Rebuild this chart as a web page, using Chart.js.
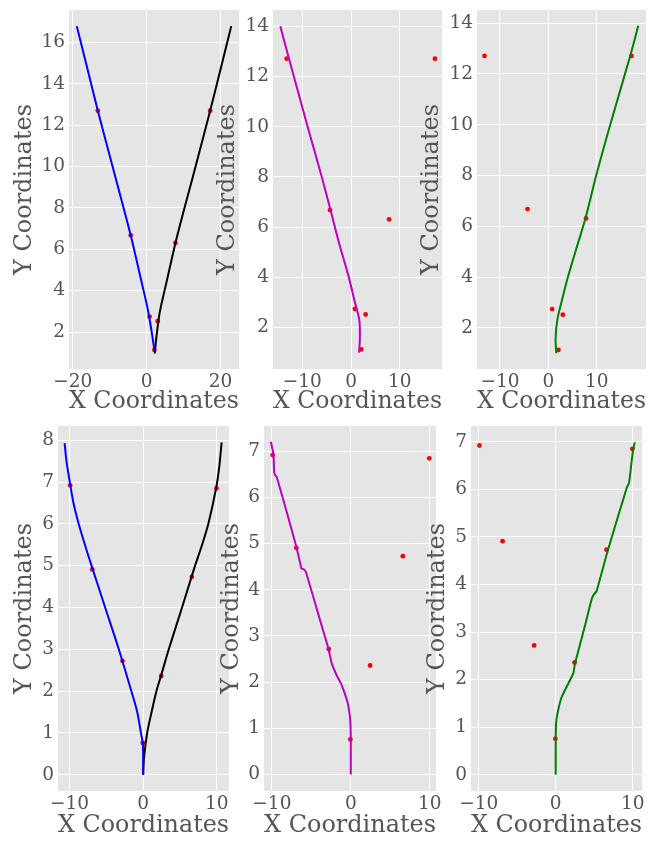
<!DOCTYPE html>
<html><head><meta charset="utf-8">
<script src="https://cdn.jsdelivr.net/npm/chart.js@4.4.1/dist/chart.umd.min.js"></script>
<style>
html,body{margin:0;padding:0;background:#fff;width:659px;height:841px;overflow:hidden;position:relative}
canvas{position:absolute}
</style></head><body>
<script>
// ---------- DATA ----------
// Top row: shared red points
const redTopX = [-13.2, -4.3, 0.8, 2.1, 3.0, 7.8, 17.2];
const redTopY = [12.71, 6.68, 2.74, 1.13, 2.52, 6.31, 12.71];
// Panel 1 curves
const p1BlueX  = [-18.9, -16.1, -13.2, -8.9, -4.3, -1.6, 0.2, 1.2, 1.8, 2.15];
const p1BlueY  = [16.8, 14.8, 12.71, 9.8, 6.68, 4.6, 3.2, 2.2, 1.5, 1.1];
const p1BlackX = [2.2, 2.5, 2.95, 3.6, 5.5, 7.8, 10.1, 12.5, 17.2, 20.0, 22.9];
const p1BlackY = [0.96, 1.5, 2.2, 3.0, 4.5, 6.31, 7.9, 9.5, 12.71, 14.7, 16.8];
// Panel 2 curve
const p2MagX = [-14.5, -12.7, -8.9, -6.0, -4.2, -2.5, -0.45, 0.8, 1.3, 1.7, 1.8, 1.8, 1.65];
const p2MagY = [14.0, 12.7, 10.0, 8.0, 6.68, 5.4, 4.0, 3.0, 2.65, 2.3, 2.0, 1.5, 1.0];
// Panel 3 curve
const p3GreenX = [1.65, 1.5, 1.65, 2.05, 2.7, 4.05, 5.6, 7.7, 9.9, 12.8, 16.9, 18.6];
const p3GreenY = [1.0, 1.5, 2.0, 2.5, 3.0, 4.0, 5.0, 6.33, 8.0, 10.0, 12.69, 13.9];

// Bottom row: shared red points
const redBotX = [-9.9, -6.9, -2.8, -0.05, 2.45, 6.6, 9.95];
const redBotY = [6.92, 4.91, 2.72, 0.76, 2.36, 4.73, 6.85];
// Panel 4 curves
const p4BlueX  = [-10.65, -10.4, -9.95, -9.45, -8.75, -7.9, -7.0, -5.15, -3.3, -1.6, -0.8, -0.3, -0.05, 0, 0];
const p4BlueY  = [7.93, 7.5, 7.0, 6.5, 6.0, 5.5, 5.0, 4.0, 3.0, 2.0, 1.5, 1.0, 0.76, 0.4, 0];
const p4BlackX = [0, 0.12, 0.55, 1.15, 1.81, 2.45, 3.48, 5.28, 6.6, 7.05, 8.0, 8.85, 9.93, 10.35, 10.65];
const p4BlackY = [0, 0.4, 1.0, 1.5, 2.0, 2.38, 3.0, 4.0, 4.75, 5.0, 5.5, 6.0, 6.88, 7.4, 7.95];
// Panel 5 curve
const p5MagX = [-10.13, -9.8, -9.71, -9.6, -9.37, -6.89, -6.25, -6.0, -5.7, -3.72, -2.83, -2.4, -1.77, -1.14, -0.42, -0.25, -0.08, 0, 0];
const p5MagY = [7.21, 6.93, 6.55, 6.49, 6.44, 4.93, 4.46, 4.45, 4.39, 3.24, 2.72, 2.4, 2.14, 1.93, 1.57, 1.42, 1.21, 0.78, 0];
// Panel 6 curve
const p6GreenX = [0, 0, 0.04, 0.22, 0.78, 1.42, 2.28, 2.5, 3.79, 4.66, 4.95, 5.3, 6.73, 9.26, 9.52, 9.83, 10.04, 10.26];
const p6GreenY = [0, 0.73, 1.08, 1.29, 1.64, 1.85, 2.13, 2.34, 3.13, 3.69, 3.79, 3.86, 4.70, 6.05, 6.13, 6.55, 6.82, 6.99];

// Axis ranges and ticks
const p1XRange = [-21.0, 25.0], p1YRange = [0.21, 17.58];
const p2XRange = [-16.0, 18.65], p2YRange = [0.35, 14.65];
const p3XRange = [-14.75, 20.2], p3YRange = [0.38, 14.52];
const p4XRange = [-11.55, 11.65], p4YRange = [-0.39, 8.34];
const p5XRange = [-11.0, 10.8], p5YRange = [-0.36, 7.55];
const p6XRange = [-11.0, 11.2], p6YRange = [-0.34, 7.33];
const xTicks20 = [-20, 0, 20];
const xTicks10 = [-10, 0, 10];
const yTicksP1 = [2, 4, 6, 8, 10, 12, 14, 16];
const yTicksP23 = [2, 4, 6, 8, 10, 12, 14];
const yTicksP4 = [0, 1, 2, 3, 4, 5, 6, 7, 8];
const yTicksP56 = [0, 1, 2, 3, 4, 5, 6, 7];

// ---------- RENDERING ----------
const pts = (xs, ys) => xs.map((x, i) => ({x: x, y: ys[i]}));
const fmt = v => v < 0 ? '\u2212' + Math.abs(v) : String(v);
const FONT = 'DejaVu Serif';
const TXT = '#555555';

const bgPlugin = {
  id: 'bg',
  beforeDraw(chart) {
    const a = chart.chartArea, c = chart.ctx;
    c.save(); c.fillStyle = '#E5E5E5';
    c.fillRect(a.left, a.top, a.right - a.left, a.bottom - a.top);
    c.restore();
  }
};

const YW = 80, TOPPAD = 12, RPAD = 12, XH = 56;

function panel(geo, curves, red, xr, yr, xt, yt, yTitlePad, xTitlePad) {
  const [L, T, W, H] = geo;
  const cv = document.createElement('canvas');
  const cw = YW + W + RPAD, ch = TOPPAD + H + XH;
  cv.width = cw; cv.height = ch;
  cv.style.left = (L - YW) + 'px'; cv.style.top = (T - TOPPAD) + 'px';
  cv.style.width = cw + 'px'; cv.style.height = ch + 'px';
  document.body.appendChild(cv);
  const datasets = curves.map(c => ({
    data: pts(c.x, c.y), showLine: true, borderColor: c.color, borderWidth: 2,
    pointRadius: 0, tension: c.tension, fill: false
  }));
  datasets.push({
    data: pts(red[0], red[1]), showLine: false, pointRadius: 2.4,
    backgroundColor: '#FF0000', borderColor: '#FF0000', borderWidth: 0
  });
  new Chart(cv, {
    type: 'scatter',
    data: {datasets},
    plugins: [bgPlugin],
    options: {
      responsive: false, animation: false, devicePixelRatio: 1,
      layout: {padding: {left: 0, top: TOPPAD, right: RPAD, bottom: 0}},
      plugins: {legend: {display: false}, tooltip: {enabled: false}},
      scales: {
        x: {
          type: 'linear', min: xr[0], max: xr[1],
          afterBuildTicks: s => { s.ticks = xt.map(v => ({value: v})); },
          afterFit: s => { s.height = XH; s.paddingLeft = 0; s.paddingRight = 0; },
          grid: {color: '#FFFFFF', lineWidth: 1, drawTicks: false},
          border: {display: false},
          ticks: {autoSkip: false, maxRotation: 0, padding: 1.6, color: TXT,
                  font: {family: FONT, size: 18.5, lineHeight: 1.2}, callback: v => fmt(v)},
          title: {display: true, text: 'X Coordinates', color: TXT,
                  font: {family: FONT, size: 24, lineHeight: 1}, padding: {top: 0, bottom: xTitlePad}}
        },
        y: {
          type: 'linear', min: yr[0], max: yr[1],
          afterBuildTicks: s => { s.ticks = yt.map(v => ({value: v})); },
          afterFit: s => { s.width = YW; s.paddingTop = 0; s.paddingBottom = 0; },
          grid: {color: '#FFFFFF', lineWidth: 1, drawTicks: false},
          border: {display: false},
          ticks: {autoSkip: false, padding: 4, color: TXT,
                  font: {family: FONT, size: 18.5, lineHeight: 1.2}, callback: v => fmt(v)},
          title: {display: true, text: 'Y Coordinates', color: TXT,
                  font: {family: FONT, size: 24, lineHeight: 1}, padding: {top: yTitlePad, bottom: 0}}
        }
      }
    }
  });
}

panel([69, 10, 170, 359],
  [{x: p1BlueX, y: p1BlueY, color: '#0000FF', tension: 0.3},
   {x: p1BlackX, y: p1BlackY, color: '#000000', tension: 0.3}],
  [redTopX, redTopY], p1XRange, p1YRange, xTicks20, yTicksP1, 24, 11.3);
panel([273, 10, 169, 359],
  [{x: p2MagX, y: p2MagY, color: '#BF00BF', tension: 0.3}],
  [redTopX, redTopY], p2XRange, p2YRange, xTicks10, yTicksP23, 23, 11.3);
panel([477, 10, 169, 359],
  [{x: p3GreenX, y: p3GreenY, color: '#008000', tension: 0.3}],
  [redTopX, redTopY], p3XRange, p3YRange, xTicks10, yTicksP23, 23, 11.3);
panel([58, 426, 171, 365],
  [{x: p4BlueX, y: p4BlueY, color: '#0000FF', tension: 0.3},
   {x: p4BlackX, y: p4BlackY, color: '#000000', tension: 0.3}],
  [redBotX, redBotY], p4XRange, p4YRange, xTicks10, yTicksP4, 35, 9.7);
panel([264, 426, 172, 365],
  [{x: p5MagX, y: p5MagY, color: '#BF00BF', tension: 0.15}],
  [redBotX, redBotY], p5XRange, p5YRange, xTicks10, yTicksP56, 36, 9.7);
panel([471, 426, 171, 365],
  [{x: p6GreenX, y: p6GreenY, color: '#008000', tension: 0.15}],
  [redBotX, redBotY], p6XRange, p6YRange, xTicks10, yTicksP56, 35, 9.7);
</script>
</body></html>
